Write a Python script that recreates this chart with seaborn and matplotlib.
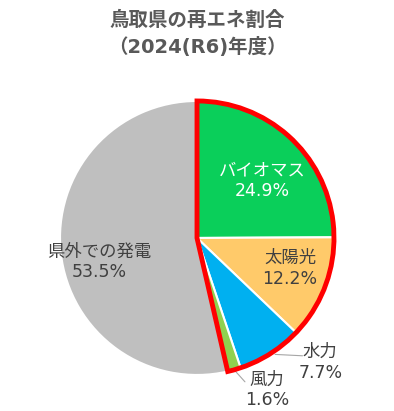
import matplotlib
matplotlib.use("Agg")
import matplotlib.pyplot as plt
import seaborn as sns
from matplotlib.patches import Wedge

sns.set_theme(style="white")
plt.rcParams['font.family'] = ['DejaVu Sans', 'Noto Sans CJK JP']

# data
categories = ["バイオマス", "太陽光", "水力", "風力", "県外での発電"]
values = [24.9, 12.2, 7.7, 1.6, 53.5]
colors = ["#0ACF5A", "#FFCA6A", "#00B0F0", "#8FD14F", "#BFBFBF"]
title_lines = ["鳥取県の再エネ割合", "（2024(R6)年度）"]

fig = plt.figure(figsize=(3.94, 4.11), dpi=100)
ax = fig.add_axes([0, 0, 1, 1])

wedges, _ = ax.pie(values, colors=colors, startangle=90, counterclock=False,
                   radius=1.0, wedgeprops=dict(edgecolor="white", linewidth=1.5))
ax.set_xlim(-1.438, 1.438)
ax.set_ylim(-1.263, 1.737)
ax.axis("off")

# red outline around renewable share
renew = sum(values[:4])
theta2 = 90
theta1 = 90 - renew * 3.6
ax.add_patch(Wedge((0, 0), 1.0, theta1, theta2, fill=False,
                   edgecolor="#FF0000", linewidth=3.5, joinstyle="miter", zorder=5))

txt = "#404040"
fs = 12.5
ax.text(0.48, 0.42, f"{categories[0]}\n{values[0]}%", ha="center", va="center",
        color="white", fontsize=fs, linespacing=1.2, zorder=6)
ax.text(0.68, -0.22, f"{categories[1]}\n{values[1]}%", ha="center", va="center",
        color=txt, fontsize=fs, linespacing=1.2, zorder=6)
ax.text(-0.71, -0.175, f"{categories[4]}\n{values[4]}%", ha="center", va="center",
        color=txt, fontsize=fs, linespacing=1.2, zorder=6)

# outside labels with leader lines
ax.plot([0.57, 0.77], [-0.85, -0.86], color="#A6A6A6", lw=0.8, clip_on=False, zorder=4)
ax.text(0.90, -0.91, f"{categories[2]}\n{values[2]}%", ha="center", va="center",
        color=txt, fontsize=fs, linespacing=1.2)
ax.plot([0.26, 0.35], [-0.95, -1.05], color="#A6A6A6", lw=0.8, clip_on=False, zorder=4)
ax.text(0.51, -1.11, f"{categories[3]}\n{values[3]}%", ha="center", va="center",
        color=txt, fontsize=fs, linespacing=1.2)

fig.text(0.5, 1 - 20 / 411, title_lines[0], ha="center", va="center",
         color="#595959", fontsize=14, fontweight="bold")
fig.text(0.5, 1 - 47 / 411, title_lines[1], ha="center", va="center",
         color="#595959", fontsize=14, fontweight="bold")

fig.savefig("out.png", dpi=100)
